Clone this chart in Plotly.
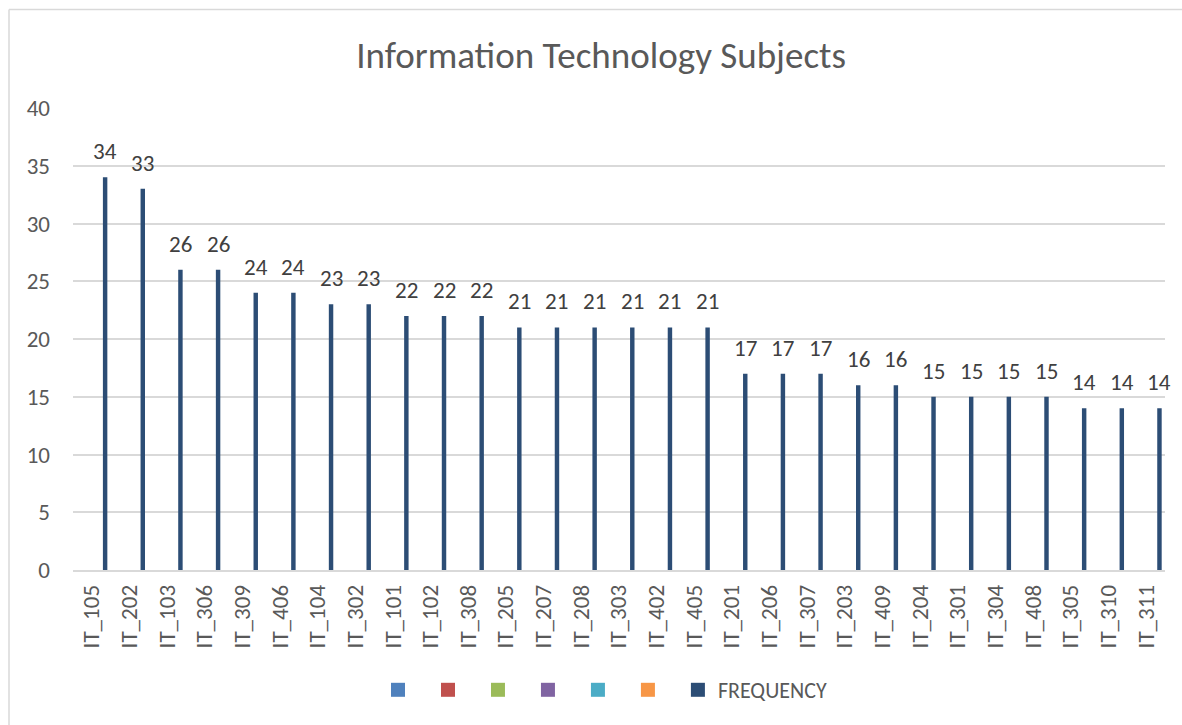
import plotly.graph_objects as go

categories = ["IT_105", "IT_202", "IT_103", "IT_306", "IT_309", "IT_406", "IT_104", "IT_302",
              "IT_101", "IT_102", "IT_308", "IT_205", "IT_207", "IT_208", "IT_303", "IT_402",
              "IT_405", "IT_201", "IT_206", "IT_307", "IT_203", "IT_409", "IT_204", "IT_301",
              "IT_304", "IT_408", "IT_305", "IT_310", "IT_311"]
frequency = [34, 33, 26, 26, 24, 24, 23, 23, 22, 22, 22, 21, 21, 21, 21, 21, 21,
             17, 17, 17, 16, 16, 15, 15, 15, 15, 14, 14, 14]
empty_series_colors = ["#4F81BD", "#C0504D", "#9BBB59", "#8064A2", "#4BACC6", "#F79646"]
freq_color = "#2C4D75"
y_ticks = [0, 5, 10, 15, 20, 25, 30, 35, 40]

FONT = "Carlito, Calibri, Lato, sans-serif"
GRAY = "#595959"

W, H = 1182, 725
L, R, T, B = 73, 17, 108, 155
pw, ph = W - L - R, H - T - B
def px_x(x): return (x - L) / pw
def px_y(y): return (H - B - y) / ph

BAR_OFFSET = 0.294
BAR_WIDTH = 0.118
cat_px = pw / len(categories)

fig = go.Figure()
fig.add_trace(go.Bar(
    x=categories, y=frequency, name="FREQUENCY", marker_color=freq_color,
    marker_line_width=0, width=BAR_WIDTH, offset=BAR_OFFSET, showlegend=False,
))
# legend entries (six empty series + FREQUENCY), as in the original workbook chart
for c in empty_series_colors:
    fig.add_trace(go.Scatter(x=[None], y=[None], mode="markers", name=" ",
                             marker=dict(symbol="square", size=14, color=c)))
fig.add_trace(go.Scatter(x=[None], y=[None], mode="markers", name="FREQUENCY",
                         marker=dict(symbol="square", size=14, color=freq_color)))

# data labels
for cat, v in zip(categories, frequency):
    fig.add_annotation(x=cat, y=v, text=str(v), showarrow=False, yanchor="bottom",
                       xshift=(BAR_OFFSET + BAR_WIDTH / 2) * cat_px, yshift=10,
                       font=dict(family=FONT, size=23, color="#404040"))

fig.update_layout(
    width=W, height=H,
    margin=dict(l=L, r=R, t=T, b=B),
    paper_bgcolor="white", plot_bgcolor="white",
    font=dict(family=FONT, color=GRAY),
    title=dict(text="Information Technology Subjects", x=0.5085, xref="container",
               xanchor="center", y=1 - 55 / H, yanchor="middle",
               font=dict(family=FONT, size=37, color=GRAY)),
    showlegend=True,
    legend=dict(orientation="h", x=px_x(605), xanchor="center", y=px_y(690), yanchor="middle",
                font=dict(family=FONT, size=22, color=GRAY), itemwidth=30,
                traceorder="normal"),
    xaxis=dict(type="category", tickangle=-90, showgrid=False, showline=True,
               linecolor="#D9D9D9", linewidth=1.5, ticks="",
               tickfont=dict(family=FONT, size=23, color=GRAY),
               range=[-0.5, len(categories) - 0.5], ticklabelstandoff=4),
    yaxis=dict(range=[0, 40], tickvals=y_ticks, showgrid=True, gridcolor="#D9D9D9",
               gridwidth=1.5, zeroline=False, showline=False, ticks="",
               tickfont=dict(family=FONT, size=23, color=GRAY), ticklabelstandoff=22),
)

# chart-area border (left and top edges visible in the cropped chart)
fig.add_shape(type="line", xref="paper", yref="paper", x0=px_x(9), x1=px_x(9),
              y0=px_y(H), y1=px_y(9.5), line=dict(color="#D9D9D9", width=1.5))
fig.add_shape(type="line", xref="paper", yref="paper", x0=px_x(9), x1=px_x(W),
              y0=px_y(9.5), y1=px_y(9.5), line=dict(color="#D9D9D9", width=1.5))

fig.write_html("out.html", config={"displayModeBar": False},
               post_script="document.body.style.margin='0';")
